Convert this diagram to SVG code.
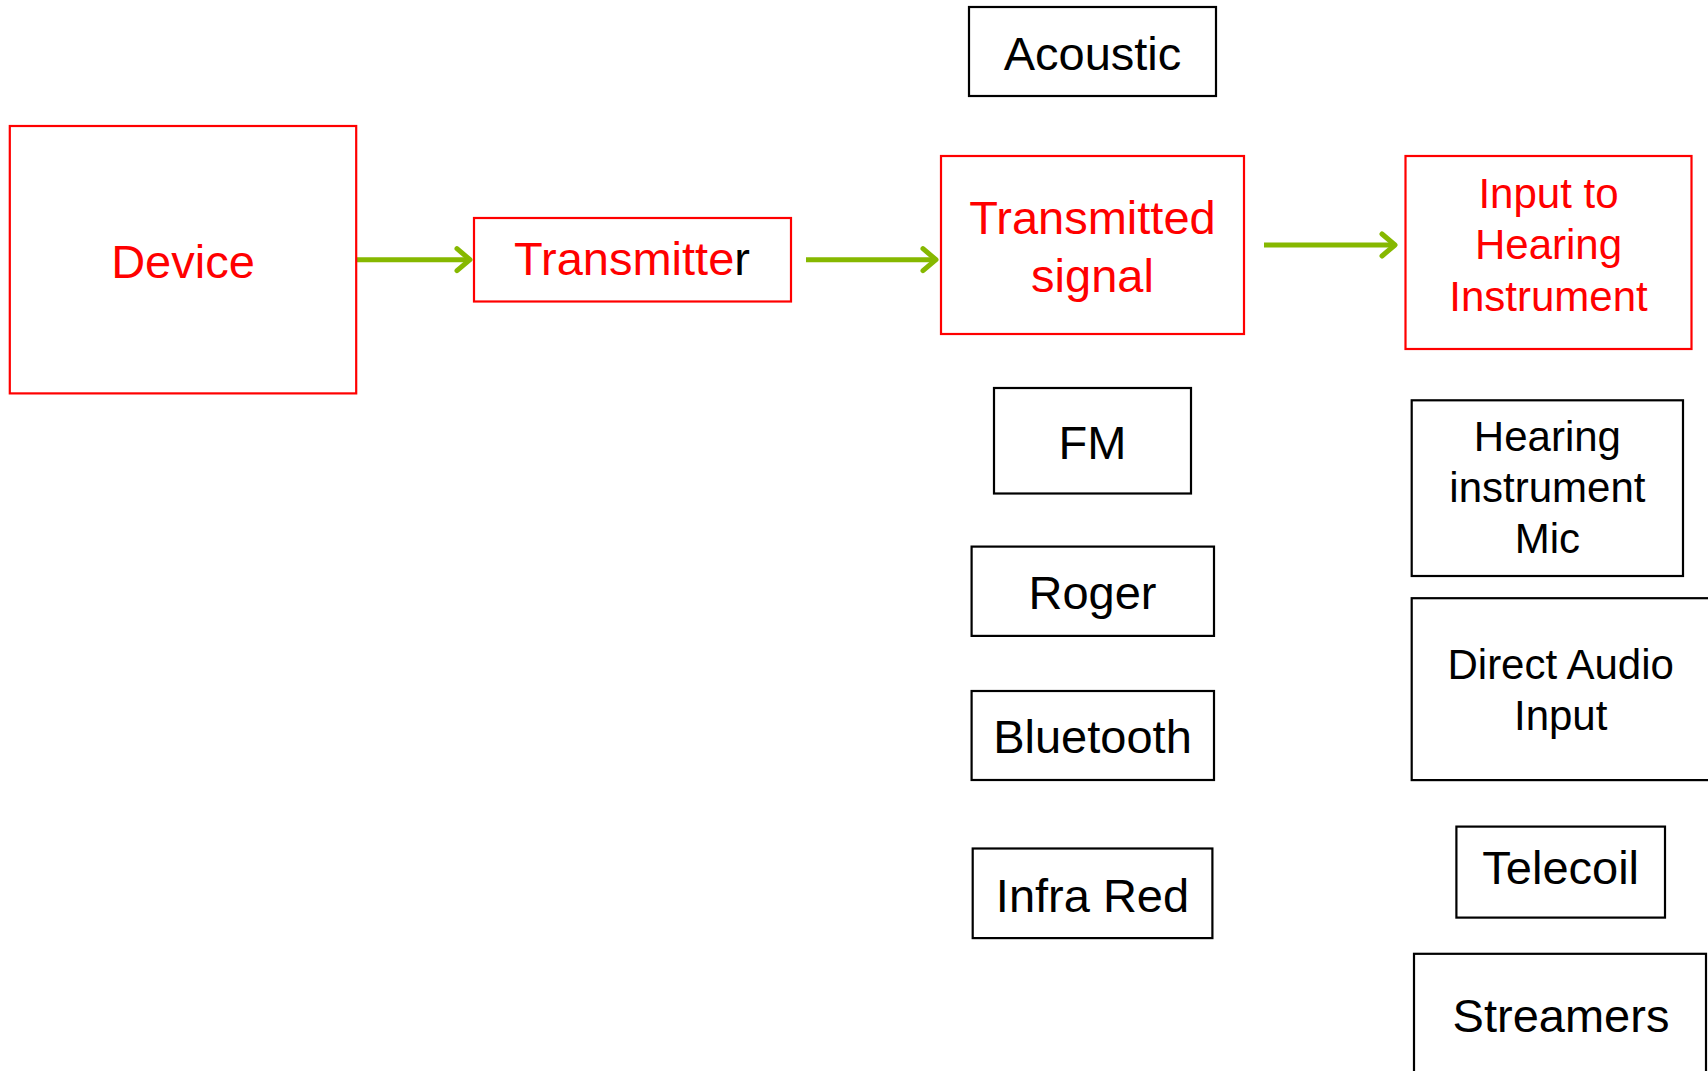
<svg xmlns="http://www.w3.org/2000/svg" width="1708" height="1071" viewBox="0 0 1708 1071">
<style>
text{font-family:"Liberation Sans",Arial,sans-serif;text-anchor:middle}
.red rect{fill:#fff;stroke:#ff0000;stroke-width:2.2}
.blk rect{fill:#fff;stroke:#000;stroke-width:2.2}
.red text{fill:#ff0000}
.blk text{fill:#000}
.s47{font-size:47px}
.s42{font-size:42px}
.conn line{stroke:#86b800;stroke-width:5;fill:none}
</style>
<defs>
<marker id="chev" markerUnits="userSpaceOnUse" viewBox="-16 -14 20 28" refX="0" refY="0" markerWidth="20" markerHeight="28" orient="auto">
<path d="M-13,-11 L0,0 L-13,11" fill="none" stroke="#86b800" stroke-width="5" stroke-linecap="round" stroke-linejoin="round"/>
</marker>
</defs>
<rect width="1708" height="1071" fill="#fff"/>
<g id="connectors" class="conn">
<line x1="357" y1="259.7" x2="470" y2="259.7" marker-end="url(#chev)"/>
<line x1="806" y1="259.7" x2="936" y2="259.7" marker-end="url(#chev)"/>
<line x1="1264" y1="245" x2="1395" y2="245" marker-end="url(#chev)"/>
</g>
<g id="device" class="red"><rect x="9.8" y="126" width="346.4" height="267.4"/><text class="s47" x="183" y="278">Device</text></g>
<g id="transmitter" class="red"><rect x="474" y="218" width="317" height="83.5"/><text class="s47" x="632" y="275">Transmitte<tspan fill="#000">r</tspan></text></g>
<g id="transmitted-signal" class="red"><rect x="941" y="156" width="303" height="178"/><text class="s47" x="1092.5" y="234">Transmitted</text><text class="s47" x="1092.5" y="292">signal</text></g>
<g id="input-to-hi" class="red"><rect x="1405.5" y="156" width="286" height="193"/><text class="s42" x="1548.5" y="208">Input to</text><text class="s42" x="1548.5" y="258.5">Hearing</text><text class="s42" x="1548.5" y="311">Instrument</text></g>
<g id="acoustic" class="blk"><rect x="969" y="7" width="247" height="89"/><text class="s47" x="1092.5" y="70">Acoustic</text></g>
<g id="fm" class="blk"><rect x="994" y="388" width="197" height="105.5"/><text class="s47" x="1092.5" y="458.5">FM</text></g>
<g id="roger" class="blk"><rect x="971.6" y="546.6" width="242.4" height="89.3"/><text class="s47" x="1092.5" y="609">Roger</text></g>
<g id="bluetooth" class="blk"><rect x="971.6" y="691" width="242.4" height="89"/><text class="s47" x="1092.5" y="753">Bluetooth</text></g>
<g id="infra-red" class="blk"><rect x="972.7" y="848.5" width="239.7" height="89.6"/><text class="s47" x="1092.5" y="912">Infra Red</text></g>
<g id="hi-mic" class="blk"><rect x="1411.7" y="400.3" width="271.3" height="175.7"/><text class="s42" x="1547.4" y="451">Hearing</text><text class="s42" x="1547.4" y="501.5">instrument</text><text class="s42" x="1547.4" y="553">Mic</text></g>
<g id="direct-audio" class="blk"><rect x="1411.7" y="598.2" width="300" height="181.9"/><text class="s42" x="1560.7" y="678.5">Direct Audio</text><text class="s42" x="1560.7" y="730">Input</text></g>
<g id="telecoil" class="blk"><rect x="1456.4" y="826.6" width="208.6" height="91"/><text class="s47" x="1560.7" y="884">Telecoil</text></g>
<g id="streamers" class="blk"><rect x="1414" y="953.8" width="292" height="130"/><text class="s47" x="1561" y="1031.5">Streamers</text></g>
</svg>
